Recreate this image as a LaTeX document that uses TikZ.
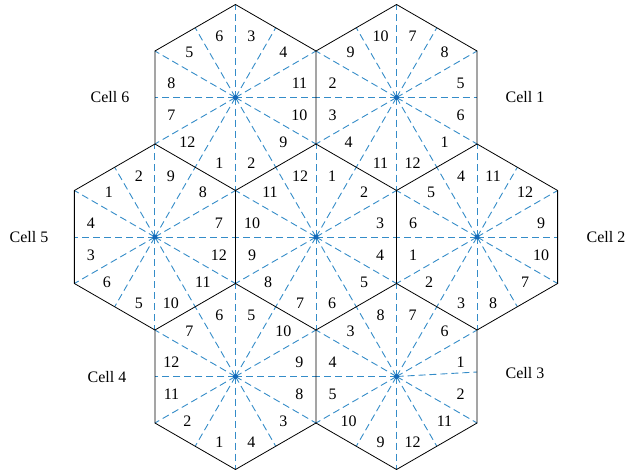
\documentclass[tikz,border=0pt]{standalone}
\usepackage{fontspec}
\setmainfont{Liberation Serif}
\usetikzlibrary{calc}
\definecolor{spokeblue}{RGB}{52,140,200}
\definecolor{hubblue}{RGB}{20,105,185}
\begin{document}
\begin{tikzpicture}[x=1pt,y=-1pt,
  hexedge/.style={draw=black,line width=0.8pt,line join=miter},
  spoke/.style={draw=spokeblue,line width=0.9pt,dash pattern=on 7pt off 4pt},
  num/.style={font=\fontsize{16}{16}\selectfont,inner sep=0pt},
  celllabel/.style={font=\fontsize{16}{16}\selectfont,inner sep=0pt},
  hub/.style={circle,fill=hubblue,inner sep=0pt,minimum size=5pt}]
\useasboundingbox (0,0) rectangle (627,472);
\def\dxs{{64,48,16,-16,-46,-64,-64,-48,-16,16,48,64}}
\def\dys{{-14,-45,-61,-61,-45,-14,18,45,66,66,45,18}}
% #1 name, #2 x, #3 y, #4 labels, #5 dy of the 0-degree spoke end
\newcommand\hexcell[5]{%
  \coordinate (#1) at (#2,#3);
  \coordinate (#1-s0) at ($(#1)+(80.5,#5)$);
  \draw[spoke] (#1) -- (#1-s0);
  \foreach \a in {60,120,180,240,300} {
    \coordinate (#1-m\a) at ($(#1)+(\a:80.5)$);
    \draw[spoke] (#1) -- (#1-m\a);
  }
  \foreach \a in {30,90,150,210,270,330} {
    \coordinate (#1-v\a) at ($(#1)+(\a:93)$);
    \draw[spoke] (#1) -- (#1-v\a);
  }
  \node[hub] (#1-hub) at (#1) {};
  \foreach \n [count=\i from 0] in {#4} {
    \pgfmathsetmacro\dx{\dxs[\i]}
    \pgfmathsetmacro\dy{\dys[\i]}
    \node[num] (#1-n\i) at ($(#1)+(\dx,\dy)$) {\n};
  }
}
\hexcell{c0}{316}{237}{3,2,1,12,11,10,9,8,7,6,5,4}{0}
\hexcell{c1}{396.54}{97.5}{5,8,7,10,9,2,3,4,11,12,1,6}{0}
\hexcell{c2}{477.08}{237}{9,12,11,4,5,6,1,2,3,8,7,10}{0}
\hexcell{c3}{396.54}{376.5}{1,6,7,8,3,4,5,10,9,12,11,2}{-4.5}
\hexcell{c4}{235.46}{376.5}{9,10,5,6,7,12,11,2,1,4,3,8}{0}
\hexcell{c5}{154.92}{237}{7,8,9,2,1,4,3,6,5,10,11,12}{0}
\hexcell{c6}{235.46}{97.5}{11,4,3,6,5,8,7,12,1,2,9,10}{0}
% all outlines in one stroke so shared edges are not darkened
\draw[hexedge] foreach \c in {c0,c1,c2,c3,c4,c5,c6} {
  (\c-v270) -- (\c-v330) -- (\c-v30) -- (\c-v90) -- (\c-v150) -- (\c-v210) -- cycle };
\node[celllabel] (l1) at (525,97) {Cell 1};
\node[celllabel] (l2) at (606,237) {Cell 2};
\node[celllabel] (l3) at (525,373) {Cell 3};
\node[celllabel] (l4) at (107,377) {Cell 4};
\node[celllabel] (l5) at (29,237) {Cell 5};
\node[celllabel] (l6) at (110,97) {Cell 6};
\end{tikzpicture}
\end{document}
